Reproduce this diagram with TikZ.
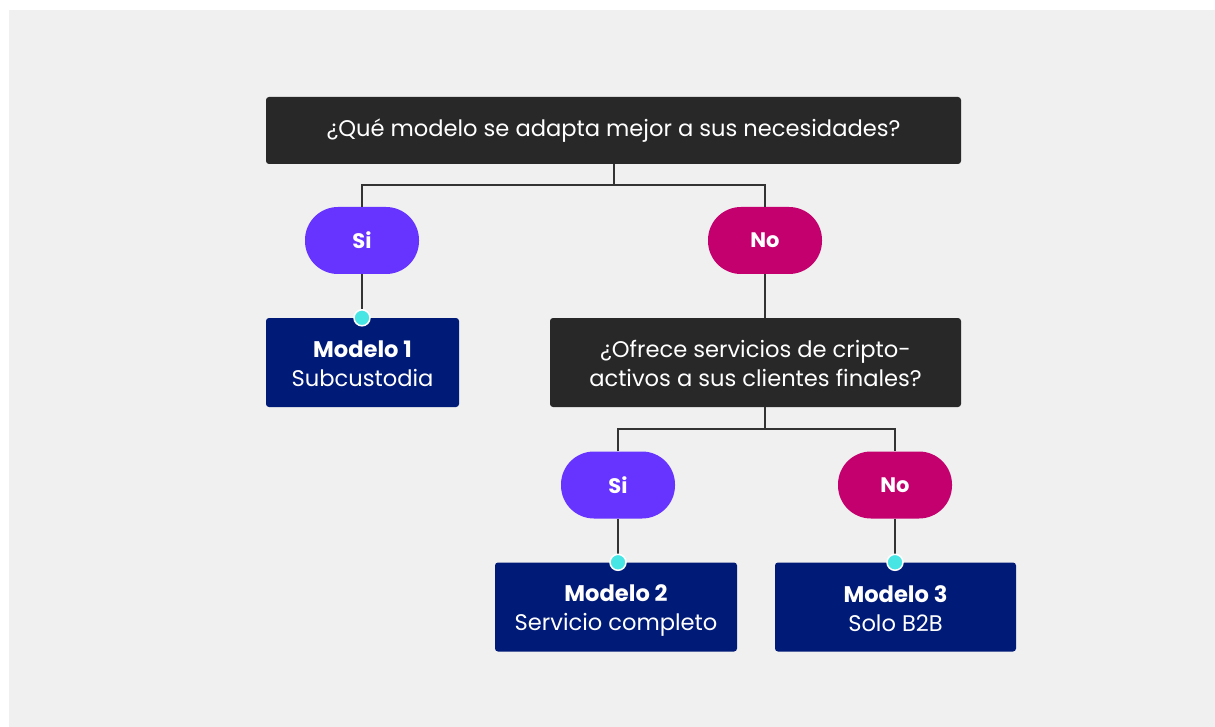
\documentclass[tikz,border=0pt]{standalone}
\usepackage{fontspec}
\setmainfont{Poppins}
\definecolor{fondo}{HTML}{F0F0F0}
\definecolor{oscuro}{HTML}{282828}
\definecolor{linea}{HTML}{333333}
\definecolor{morado}{HTML}{6633FF}
\definecolor{magenta}{HTML}{C4006F}
\definecolor{marino}{HTML}{001A78}
\definecolor{cian}{HTML}{48E5E5}
% puntales para centrar dos lineas
\newcommand{\arriba}{\rule{0pt}{24pt}}
\newcommand{\abajo}{\rule[-5pt]{0pt}{5pt}}
\begin{document}
\begin{tikzpicture}[
    x=1pt, y=-1pt,
    pregunta/.style={fill=oscuro, text=white, rounded corners=3pt, align=center,
        font=\fontsize{22.6}{29}\selectfont, inner sep=0pt},
    modelo/.style={fill=marino, text=white, rounded corners=3pt, align=center,
        font=\fontsize{22.6}{29}\selectfont, inner sep=0pt,
        minimum height=89, minimum width=193},
    pastilla/.style={text=white, rounded corners=33pt, inner sep=0pt,
        minimum width=114, minimum height=67, font=\bfseries\fontsize{21}{25}\selectfont},
    si/.style={pastilla, fill=morado},
    no/.style={pastilla, fill=magenta},
    enlace/.style={draw=linea, line width=2pt},
    punto/.style={circle, fill=cian, draw=white, line width=1.5pt,
        minimum size=16, inner sep=0pt}
]
% fondo
\fill[white] (0,0) rectangle (1215,727);
\fill[fondo] (9,10) rectangle (1215,727);
\useasboundingbox (0,0) rectangle (1215,727);

% primera pregunta
\node[pregunta, minimum width=695, minimum height=67] (p1) at (613.5,130.5)
    {¿Qué modelo se adapta mejor a sus necesidades?};
\node[si] (si1) at (362,240.5) {Si};
\node[no] (no1) at (765,240.5) {No};
\node[modelo] (m1) at (362.5,362.5) {\arriba\textbf{Modelo 1}\\\abajo Subcustodia};

% segunda pregunta
\node[pregunta, minimum width=411, minimum height=89] (p2) at (755.5,362.5)
    {\arriba¿Ofrece servicios de cripto-\\\abajo activos a sus clientes finales?};
\node[si] (si2) at (618,485) {Si};
\node[no] (no2) at (895,485) {No};
\node[modelo, minimum width=242] (m2) at (616,607) {\arriba\textbf{Modelo 2}\\\abajo Servicio completo};
\node[modelo, minimum width=241] (m3) at (895.5,607) {\arriba\textbf{Modelo 3}\\\abajo Solo B2B};

% conectores
\coordinate (c1) at (613.5,185);
\coordinate (c2) at (765,429);
\draw[enlace] (p1.south) -- (c1);
\draw[enlace] (si1.north) |- (c1) -| (no1.north);
\draw[enlace] (no1.south) -- (no1.south |- p2.north);
\draw[enlace] (p2.south -| c2) -- (c2);
\draw[enlace] (si2.north) |- (c2) -| (no2.north);
\draw[enlace] (si1.south) -- (si1.south |- m1.north);
\draw[enlace] (si2.south) -- (si2.south |- m2.north);
\draw[enlace] (no2.south) -- (no2.south |- m3.north);

% puntos
\node[punto] (d1) at (si1.south |- m1.north) {};
\node[punto] (d2) at (si2.south |- m2.north) {};
\node[punto] (d3) at (no2.south |- m3.north) {};
\end{tikzpicture}
\end{document}
